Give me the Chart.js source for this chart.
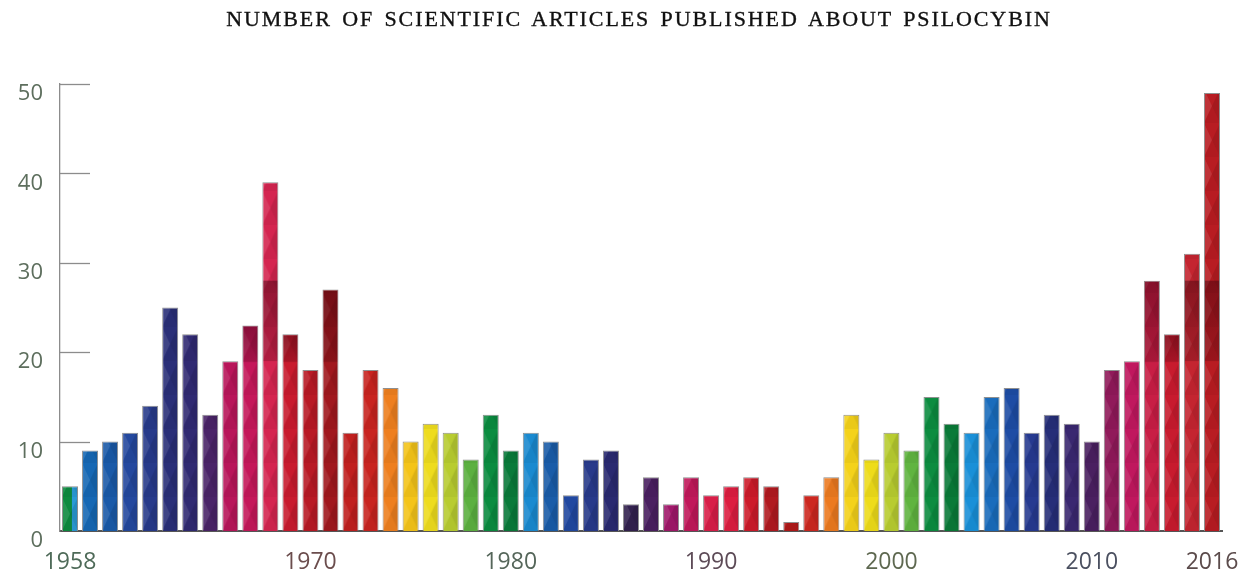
<!DOCTYPE html>
<html><head><meta charset="utf-8">
<script src="https://cdn.jsdelivr.net/npm/chart.js@4"></script>
<style>
html,body{margin:0;padding:0;background:#fff;overflow:hidden;}
#wrap{position:relative;width:1248px;height:573px;}
#title{position:absolute;top:6px;left:15px;width:1248px;text-align:center;font-family:"Liberation Serif",serif;font-size:22px;letter-spacing:1.9px;word-spacing:3px;color:#111;-webkit-text-stroke:0.35px #111;}
canvas{position:absolute;left:0;top:0;}
</style></head><body>
<div id="wrap"><canvas id="c" width="1248" height="573"></canvas><div id="title">NUMBER OF SCIENTIFIC ARTICLES PUBLISHED ABOUT PSILOCYBIN</div></div>
<script>
// ---- data ----
const years = ['1958','1959','1960','1961','1962','1963','1964','1965','1966','1967','1968','1969',
  '1970','1971','1972','1973','1974','1975','1976','1977','1978','1979',
  '1980','1981','1982','1983','1984','1985','1986','1987','1988','1989',
  '1990','1992','1993','1994','1995','1996','1997','1998','1999',
  '2000','2001','2002','2003','2004','2005','2006','2007','2008','2009',
  '2010','2011','2012','2013','2014','2015','2016'];
const articles = [5,9,10,11,14,25,22,13,19,23,39,22,18,27,11,18,16,10,12,11,8,13,9,11,10,4,8,9,3,6,3,6,4,5,6,5,1,4,6,13,8,11,9,15,12,11,15,16,11,13,12,10,18,19,28,22,31,49];
const tickLabels = ['1958','1970','1980','1990','2000','2010','2016'];
const yTicks = [0,10,20,30,40,50];
const darkBandBars = ['1967','1968','1969','1970','1971','2013','2014','2015','2016'];
const darkBandRange = [19,28];

// ---- styles ----
const barColors = ['#0e8a3f','#1668b4','#1a5aa8','#24489e','#273a8a','#2a2f78','#302a72','#4a2468','#b8165a','#c4185a',
  '#d42550','#c81b2e','#b81a25','#a0181e','#c0201f','#c82420','#ee7f1f','#f4c419','#eedc1e','#b8cc30',
  '#5cb040','#0b8c40','#0a7a3a','#1a8ad0','#1a5ca8','#2148a0','#283a8a','#2a2a70','#33224f','#4a2060',
  '#a0186a','#c0185a','#d81e48','#dc1e40','#cc1b2a','#b01a20','#b01a1a','#cc2820','#ec7a20','#f4d21a',
  '#eedc1a','#b8cc30','#60b440','#0c8c40','#0a7a38','#1a90d8','#1a6cbc','#1e4ca4','#263a90','#262e78',
  '#3a2870','#4a2060','#901a5a','#c0185e','#c81e45','#c81b2e','#c42530','#b81c22'];
const splitColors = {0:'#2a9ad6'};
const labelColors = {'1958':'#4e6a58','1970':'#6b4d4d','1980':'#55665a','1990':'#5d4b57','2000':'#5e6850','2010':'#4b5060','2016':'#5b4b4b'};

const patternCache = {};
function barPattern(ctx) {
  const i = ctx.dataIndex;
  const chart = ctx.chart;
  const xs = chart.scales.x, ys = chart.scales.y;
  if (!xs || !xs.width) return barColors[i];
  const w = xs.width / years.length * 0.8;
  const left = xs.getPixelForValue(i) - w / 2;
  const bottom = ys.getPixelForValue(0);
  const key = i + ':' + w.toFixed(2);
  let pat = patternCache[key];
  if (!pat) {
    const h = 34;
    const c = document.createElement('canvas');
    c.width = Math.max(2, Math.round(w)); c.height = h;
    const g = c.getContext('2d');
    const cw = c.width;
    g.fillStyle = barColors[i]; g.fillRect(0, 0, cw, h);
    if (splitColors[i]) { g.fillStyle = splitColors[i]; g.fillRect(cw * 0.62, 0, cw, h); }
    g.fillStyle = 'rgba(255,255,255,0.10)';
    g.beginPath(); g.moveTo(0, 0); g.lineTo(cw / 2, h / 2); g.lineTo(0, h); g.closePath(); g.fill();
    g.fillStyle = 'rgba(0,0,0,0.10)';
    g.beginPath(); g.moveTo(cw, 0); g.lineTo(cw / 2, h / 2); g.lineTo(cw, h); g.closePath(); g.fill();
    g.fillStyle = 'rgba(0,0,0,0.04)';
    g.beginPath(); g.moveTo(0, h); g.lineTo(cw, h); g.lineTo(cw / 2, h / 2); g.closePath(); g.fill();
    pat = chart.ctx.createPattern(c, 'repeat');
    patternCache[key] = pat;
  }
  pat.setTransform(new DOMMatrix([1, 0, 0, 1, left, bottom]));
  return pat;
}

const decor = {
  id: 'decor',
  beforeDatasetsDraw(chart) {
    const {ctx, scales: {x, y}} = chart;
    ctx.save();
    ctx.strokeStyle = '#8c8c8c';
    ctx.lineWidth = 1.3;
    yTicks.forEach(v => {
      if (v === 0) return;
      const py = Math.round(y.getPixelForValue(v)) + 0.5;
      ctx.beginPath(); ctx.moveTo(x.left, py); ctx.lineTo(x.left + 30, py); ctx.stroke();
    });
    ctx.restore();
  },
  afterDatasetsDraw(chart) {
    const {ctx, scales: {y}} = chart;
    const meta = chart.getDatasetMeta(0);
    ctx.save();
    darkBandBars.forEach(yr => {
      const i = years.indexOf(yr);
      const bar = meta.data[i];
      const v = articles[i];
      if (!bar || v <= darkBandRange[0]) return;
      const top = y.getPixelForValue(Math.min(v, darkBandRange[1]));
      const bot = y.getPixelForValue(darkBandRange[0]);
      const bw = bar.width - 2;
      const grad = ctx.createLinearGradient(0, top, 0, bot);
      grad.addColorStop(0, 'rgba(50,0,10,0.42)');
      grad.addColorStop(1, 'rgba(50,0,10,0.18)');
      ctx.fillStyle = grad;
      ctx.fillRect(bar.x - bw / 2, top + (v <= darkBandRange[1] ? 1 : 0), bw, bot - top);
    });
    ctx.restore();
  }
};

new Chart(document.getElementById('c'), {
  type: 'bar',
  data: {
    labels: years,
    datasets: [{
      data: articles,
      backgroundColor: barPattern,
      borderColor: '#8f8f8f',
      borderWidth: 1,
      barPercentage: 0.8,
      categoryPercentage: 1.0
    }]
  },
  plugins: [decor],
  options: {
    responsive: false,
    animation: false,
    devicePixelRatio: 1,
    layout: {padding: {top: 84, right: 26, left: 0, bottom: 0}},
    plugins: {legend: {display: false}, tooltip: {enabled: false}, title: {display: false}},
    scales: {
      x: {
        grid: {display: false, drawTicks: false},
        border: {display: true, color: '#555', width: 2},
        afterFit(s) { s.height = 42; s.paddingLeft = 0; s.paddingRight = 0; },
        ticks: {
          autoSkip: false, maxRotation: 0, padding: 18,
          font: {family: '"Open Sans", sans-serif', size: 23},
          color: c => labelColors[years[c.index]] || '#555',
          callback: (v, i) => tickLabels.includes(years[i]) ? years[i] : ''
        }
      },
      y: {
        min: 0, max: 50,
        grid: {display: false, drawTicks: false},
        border: {display: true, color: '#8c8c8c', width: 1.3},
        afterFit(s) { s.width = 60; s.paddingTop = 0; s.paddingBottom = 0; },
        afterBuildTicks(s) { s.ticks = yTicks.map(v => ({value: v})); },
        ticks: {
          padding: 17, labelOffset: 10,
          font: {family: '"Open Sans", sans-serif', size: 22},
          color: '#5d6e5d'
        }
      }
    }
  }
});
</script>
</body></html>
